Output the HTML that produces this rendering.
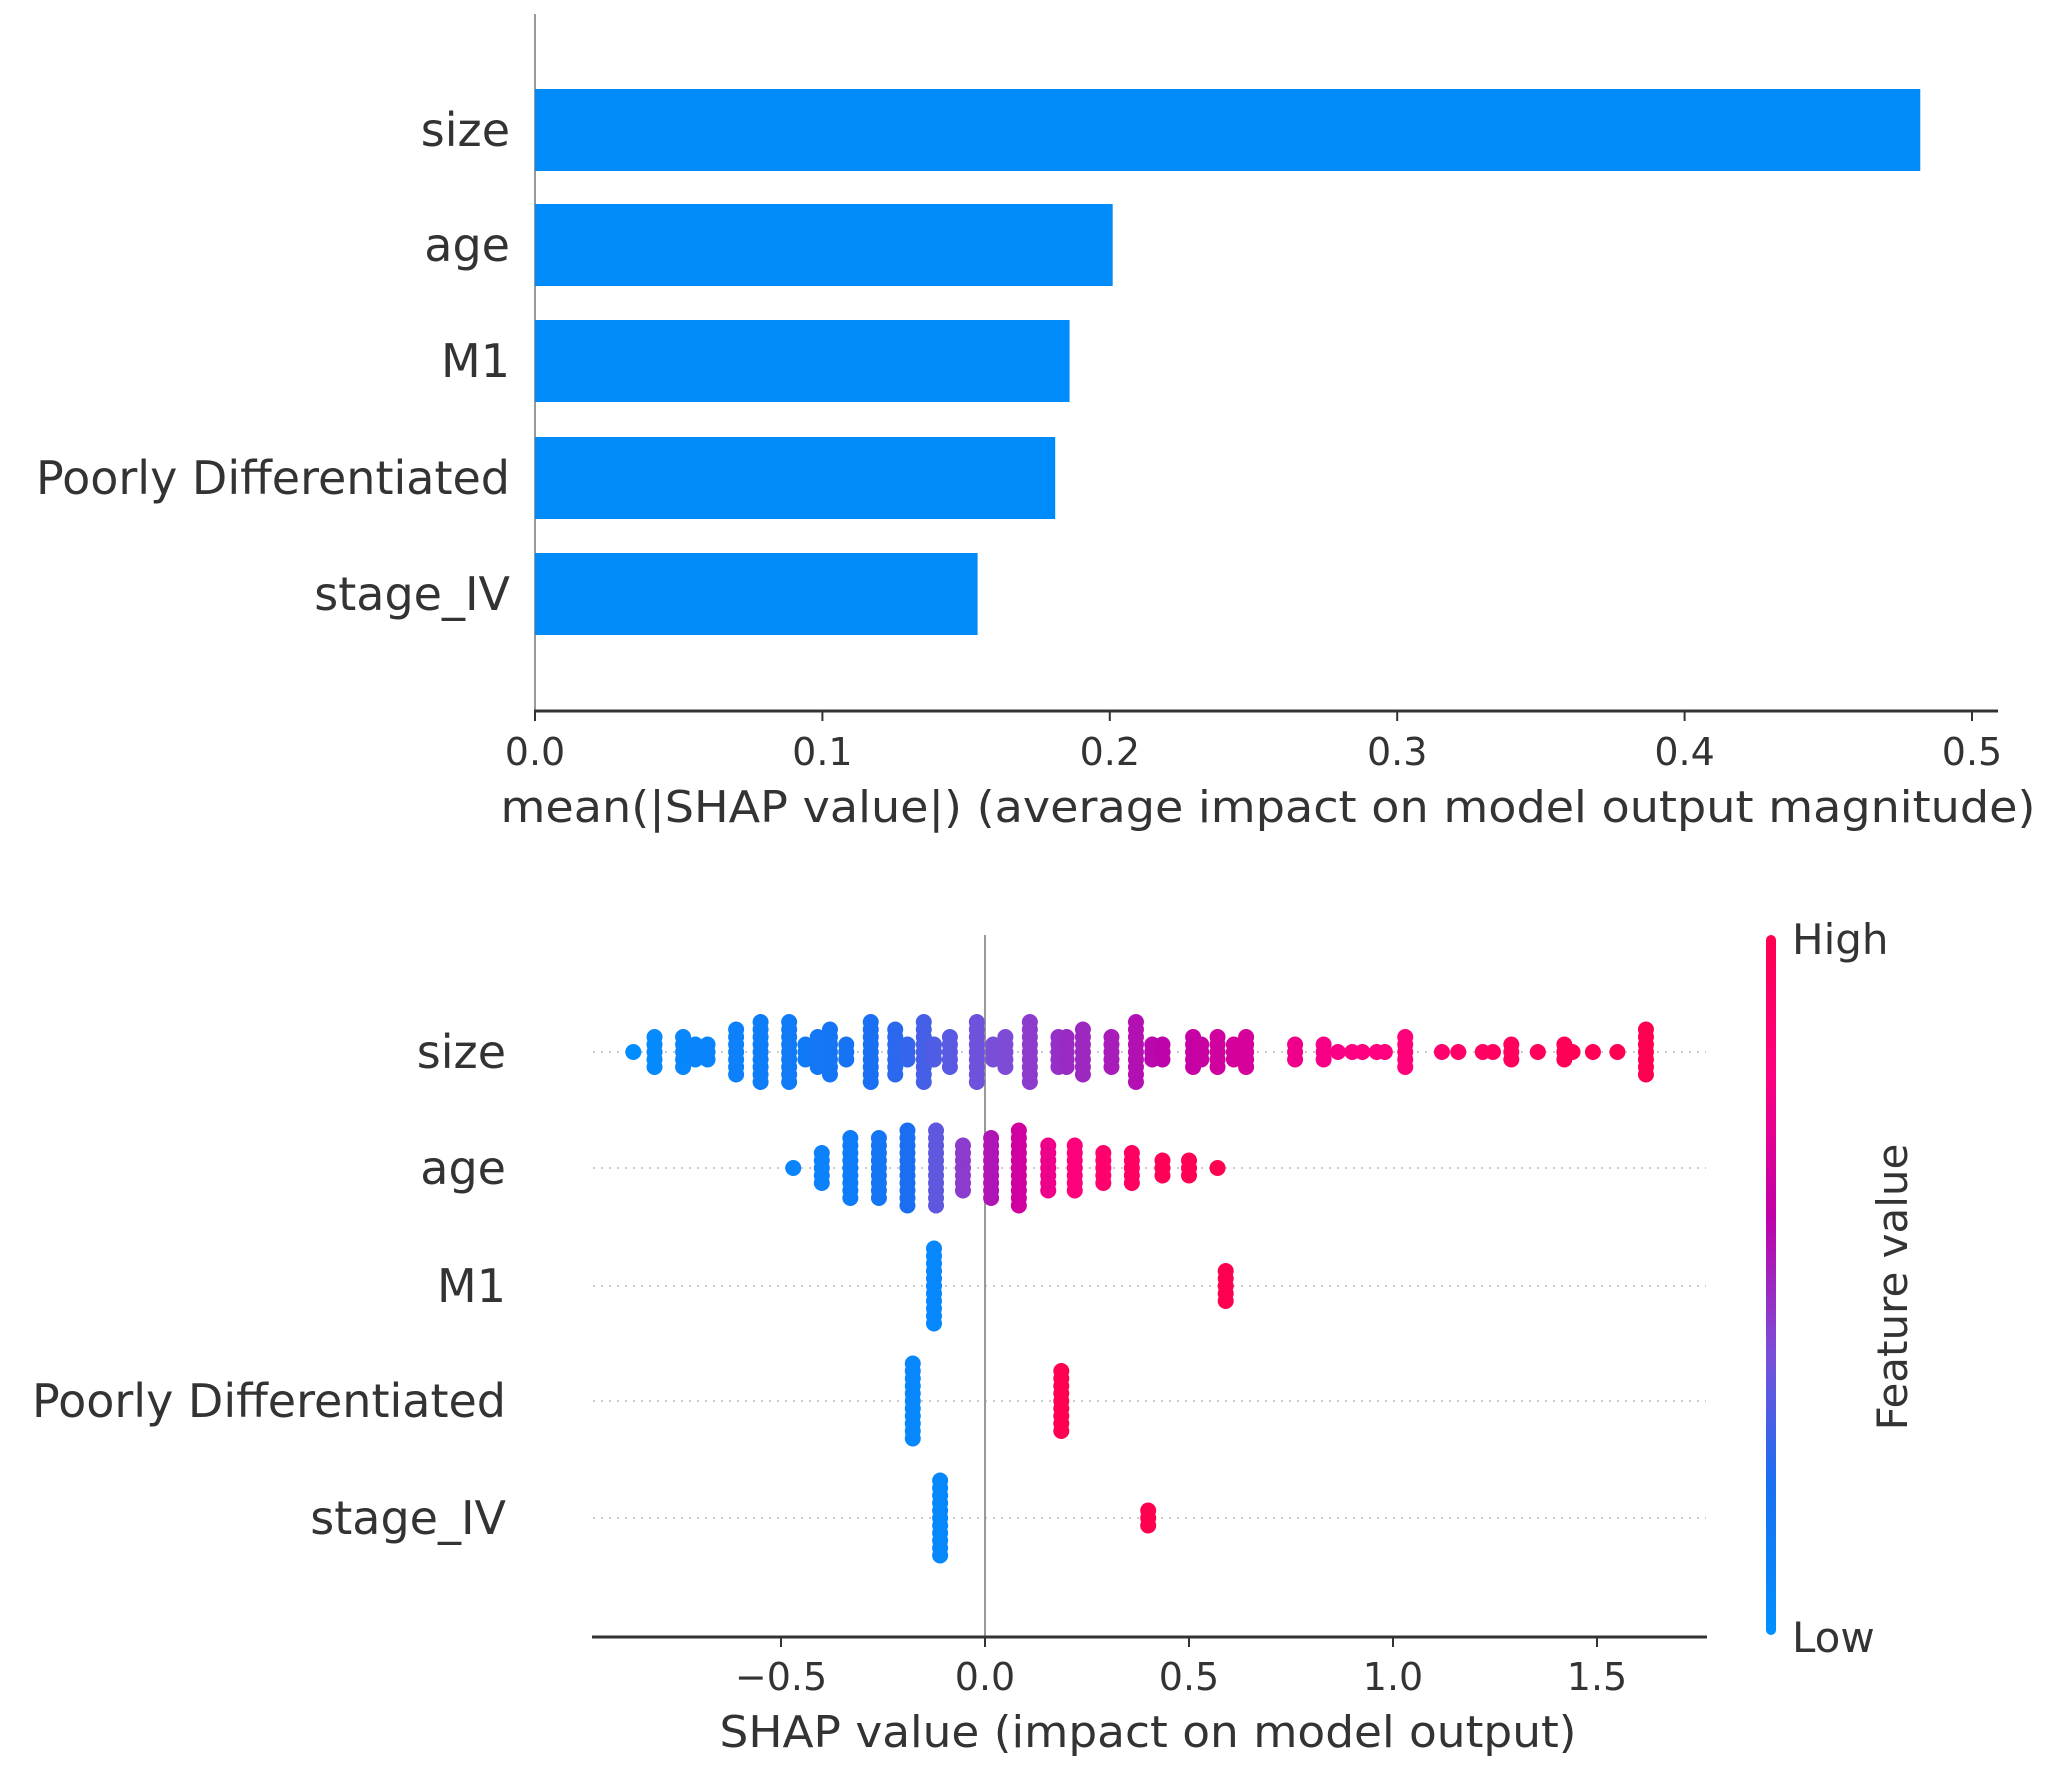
<!DOCTYPE html>
<html><head><meta charset="utf-8"><style>
html,body{margin:0;padding:0;background:#fff;}
svg{display:block;font-family:"DejaVu Sans","Liberation Sans",sans-serif;}
</style></head>
<body>
<svg id="root" width="2050" height="1766" viewBox="0 0 2050 1766">
<defs>
<linearGradient id="cbar" x1="0" y1="1" x2="0" y2="0">
<stop offset="0" stop-color="#0090ff"/>
<stop offset="0.22" stop-color="#1a6ef2"/>
<stop offset="0.4" stop-color="#7a4fd8"/>
<stop offset="0.6" stop-color="#c000a8"/>
<stop offset="0.8" stop-color="#ff0080"/>
<stop offset="1" stop-color="#ff0050"/>
</linearGradient>
</defs>
<g id="topChart"></g>
<g id="bottomChart"></g>
</svg>
<script>
// ---------- Bar chart data ----------
const barFeatures = ["size","age","M1","Poorly Differentiated","stage_IV"];
const barValues = [0.482, 0.201, 0.186, 0.181, 0.154];
const barTicks = [0.0,0.1,0.2,0.3,0.4,0.5];
const barTickLabels = ["0.0","0.1","0.2","0.3","0.4","0.5"];

// ---------- Beeswarm data: columns [shap value, half stack count, feature value 0-1] ----------
const swarmFeatures = ["size","age","M1","Poorly Differentiated","stage_IV"];
const sizeCols = [[-0.862,0,0.02],[-0.81,2,0.04],[-0.74,2,0.06],[-0.71,1,0.07],[-0.68,1,0.08],[-0.61,3,0.1],[-0.55,4,0.12],[-0.48,4,0.14],[-0.44,1,0.15],[-0.41,2,0.16],[-0.38,3,0.17],[-0.34,1,0.19],[-0.28,4,0.21],[-0.22,3,0.25],[-0.19,1,0.27],[-0.15,4,0.3],[-0.125,1,0.32],[-0.086,2,0.34],[-0.02,4,0.38],[0.02,1,0.4],[0.05,2,0.41],[0.11,4,0.45],[0.18,2,0.48],[0.20,2,0.49],[0.24,3,0.5],[0.31,2,0.53],[0.37,4,0.56],[0.41,1,0.58],[0.435,1,0.59],[0.51,2,0.62],[0.53,1,0.63],[0.57,2,0.65],[0.61,1,0.66],[0.64,2,0.67],[0.76,1,0.75],[0.83,1,0.77],[0.865,0,0.78],[0.90,0,0.79],[0.925,0,0.8],[0.96,0,0.8],[0.98,0,0.81],[1.03,2,0.83],[1.12,0,0.88],[1.16,0,0.9],[1.22,0,0.92],[1.245,0,0.93],[1.29,1,0.95],[1.355,0,0.96],[1.42,1,0.97],[1.44,0,0.98],[1.49,0,0.99],[1.55,0,1.0],[1.62,3,1.0]];
const ageCols = [[-0.47,0,0.08],[-0.40,2,0.1],[-0.33,4,0.13],[-0.26,4,0.17],[-0.19,5,0.22],[-0.12,5,0.35],[-0.054,3,0.45],[0.015,4,0.55],[0.083,5,0.65],[0.155,3,0.75],[0.22,3,0.82],[0.29,2,0.88],[0.36,2,0.93],[0.435,1,0.97],[0.50,1,0.99],[0.57,0,1.0]];
const m1Cols = [[-0.125,5,0.05],[0.59,2,1.0]];
const pdCols = [[-0.177,5,0.05],[0.187,4,1.0]];
const stageCols = [[-0.11,5,0.05],[0.40,1,1.0]];
const swarmTicks = [-0.5,0.0,0.5,1.0,1.5];
const swarmTickLabels = ["\u22120.5","0.0","0.5","1.0","1.5"];

const NS="http://www.w3.org/2000/svg";
function mk(parent,tag,attrs,text){const e=document.createElementNS(NS,tag);for(const k in attrs)e.setAttribute(k,attrs[k]);if(text!==undefined)e.textContent=text;parent.appendChild(e);return e;}

// ---------- Top bar chart ----------
const topG=document.getElementById('topChart');
const bx0=535, bxPer=2874;
const bx=v=>bx0+v*bxPer;
const byC=[130,245,361,478,594];
const barH=82;
let el;
el=mk(topG,'line',{x1:bx0,y1:14,x2:bx0,y2:711,stroke:'#999','stroke-width':2});


el=mk(topG,'line',{x1:bx0-1,y1:711,x2:1998,y2:711,stroke:'#333','stroke-width':3});


barFeatures.forEach((f,i)=>{
  const r=mk(topG,'rect',{x:bx(0),y:byC[i]-barH/2,width:bx(barValues[i])-bx(0),height:barH,fill:'#008bfb'});
  
  
  const t=mk(topG,'text',{x:510,y:byC[i]+16,'text-anchor':'end','font-size':46,fill:'#333'},f);
  
  
});
barTicks.forEach((v,i)=>{
  const tk=mk(topG,'line',{x1:bx(v),y1:711,x2:bx(v),y2:721,stroke:'#333','stroke-width':2});
  
  
  const t=mk(topG,'text',{x:bx(v),y:765,'text-anchor':'middle','font-size':38,fill:'#333'},barTickLabels[i]);
  
  
});
el=mk(topG,'text',{x:1268,y:822,'text-anchor':'middle','font-size':44,fill:'#333',textLength:1535,lengthAdjust:'spacingAndGlyphs'},'mean(|SHAP value|) (average impact on model output magnitude)');



// ---------- Bottom beeswarm ----------
const botG=document.getElementById('bottomChart');
const sx0=985, sxPer=408;
const sx=v=>sx0+v*sxPer;
const syC=[1052,1168,1286,1401,1518];
function lerp(a,b,t){return a+(b-a)*t;}
const cstops=[[0,[0,144,255]],[0.22,[26,110,242]],[0.4,[122,79,216]],[0.6,[192,0,168]],[0.8,[255,0,128]],[1,[255,0,80]]];
function col(t){for(let i=1;i<cstops.length;i++){if(t<=cstops[i][0]){const a=cstops[i-1],b=cstops[i];const u=(t-a[0])/(b[0]-a[0]);return 'rgb('+a[1].map((c,k)=>Math.round(lerp(c,b[1][k],u))).join(',')+')';}}return 'rgb(255,0,80)';}
syC.forEach((y,i)=>{
  const g=mk(botG,'line',{x1:593,y1:y,x2:1706,y2:y,stroke:'#ccc','stroke-width':2,'stroke-dasharray':'2 6'});
  
  
});
el=mk(botG,'line',{x1:sx(0),y1:935,x2:sx(0),y2:1636,stroke:'#999','stroke-width':2});


const allCols=[sizeCols,ageCols,m1Cols,pdCols,stageCols];
const spacing=7.5, rad=8;
allCols.forEach((cols,ri)=>{
  cols.forEach(c=>{
    for(let k=-c[1];k<=c[1];k++){
      const d=mk(botG,'circle',{cx:sx(c[0]),cy:syC[ri]+k*spacing,r:rad,fill:col(c[2])});
      
      
    }
  });
});
swarmFeatures.forEach((f,i)=>{
  const t=mk(botG,'text',{x:506,y:syC[i]+16,'text-anchor':'end','font-size':46,fill:'#333'},f);
  
  
});
el=mk(botG,'line',{x1:592,y1:1637,x2:1707,y2:1637,stroke:'#333','stroke-width':3});


swarmTicks.forEach((v,i)=>{
  const tk=mk(botG,'line',{x1:sx(v),y1:1637,x2:sx(v),y2:1647,stroke:'#333','stroke-width':2});
  
  
  const t=mk(botG,'text',{x:sx(v),y:1690,'text-anchor':'middle','font-size':38,fill:'#333'},swarmTickLabels[i]);
  
  
});
el=mk(botG,'text',{x:1148,y:1747,'text-anchor':'middle','font-size':44,fill:'#333',textLength:857,lengthAdjust:'spacingAndGlyphs'},'SHAP value (impact on model output)');


el=mk(botG,'rect',{x:1766,y:935,width:10,height:700,rx:5,fill:'url(#cbar)'});


el=mk(botG,'text',{x:1792,y:954,'font-size':42,fill:'#333'},'High');


el=mk(botG,'text',{x:1792,y:1652,'font-size':42,fill:'#333'},'Low');


el=mk(botG,'text',{x:1907,y:1287,'text-anchor':'middle','font-size':42,fill:'#333',transform:'rotate(-90 1907 1287)'},'Feature value');


</script>
</body></html>
